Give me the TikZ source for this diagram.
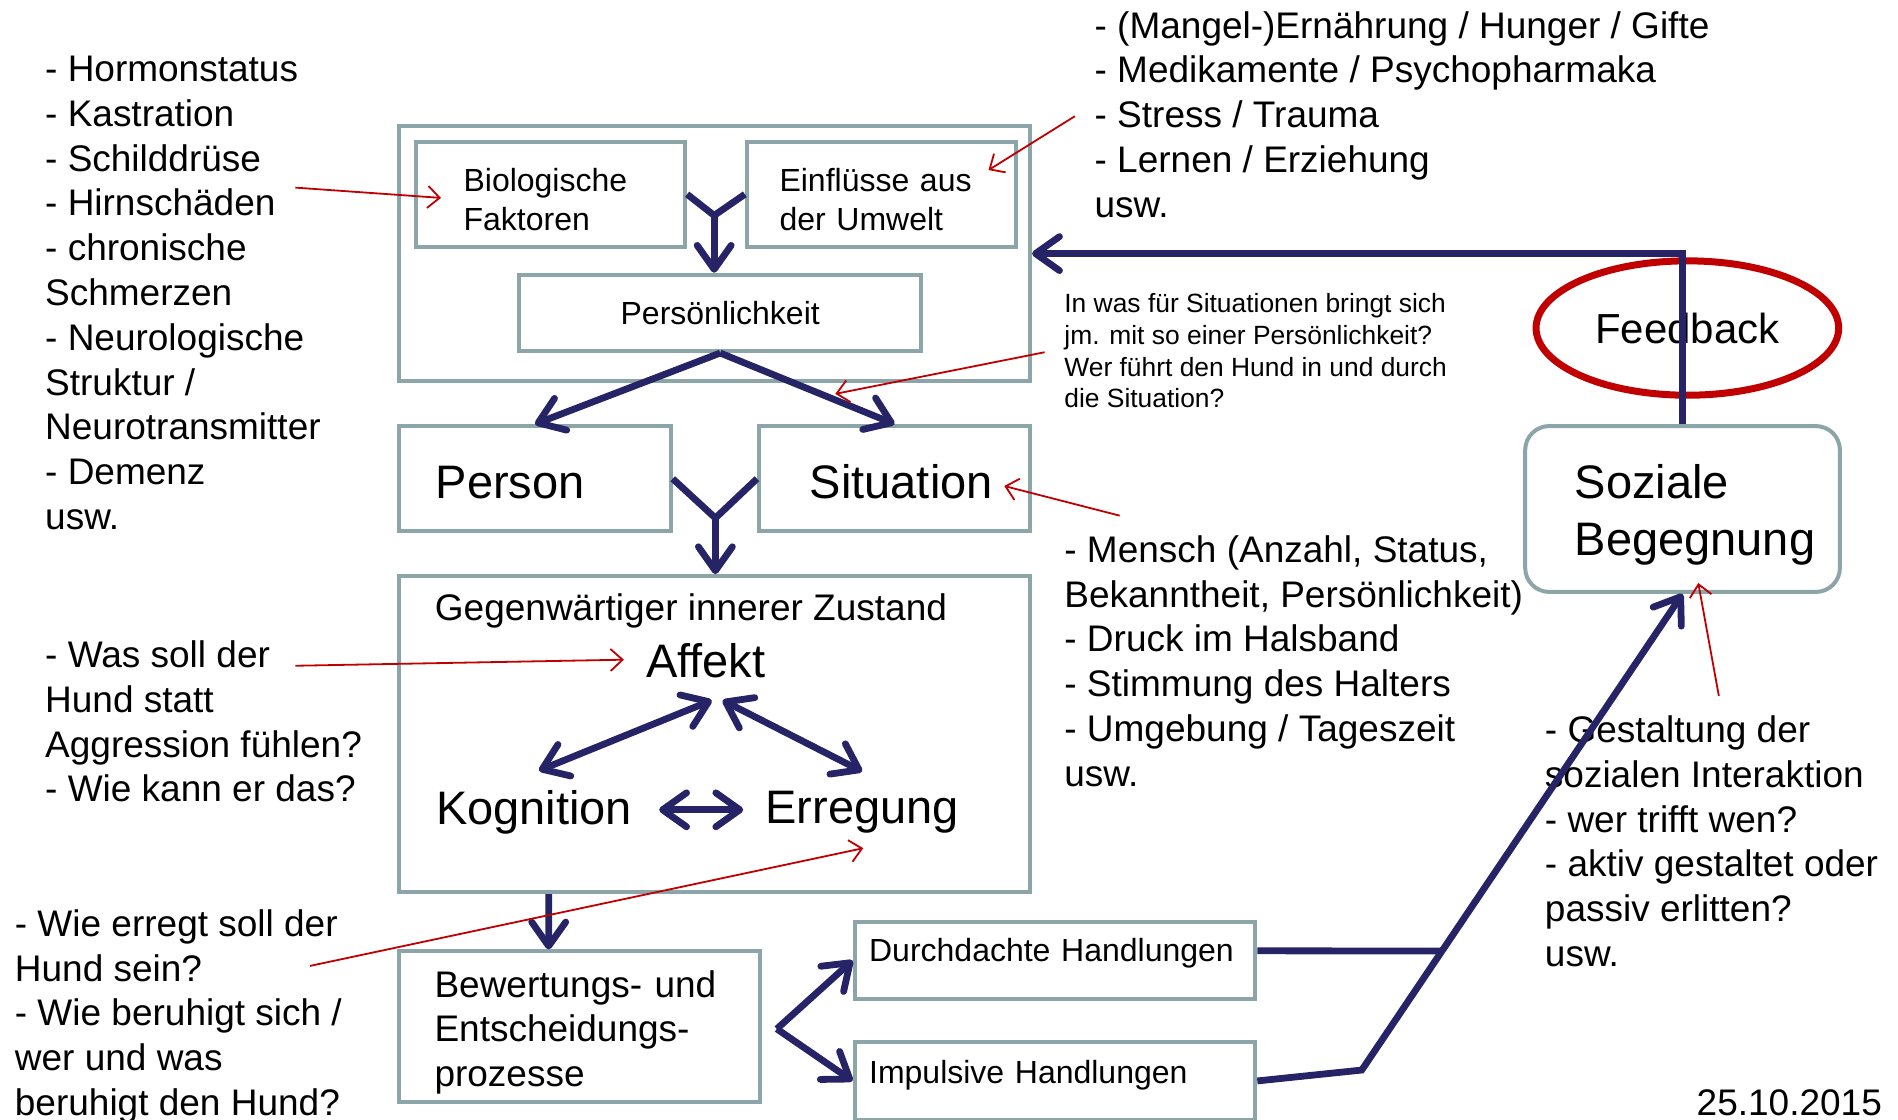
\documentclass[tikz,border=0pt]{standalone}
\usepackage{fontspec}
\setmainfont{Liberation Sans}
\definecolor{RahmenGrau}{HTML}{8CA5A8}
\definecolor{PfeilBlau}{HTML}{262466}
\definecolor{HinweisRot}{HTML}{C00000}
\usepackage{tikz}
\usetikzlibrary{arrows.meta}
\usetikzlibrary{calc}
\usetikzlibrary{shapes.geometric}
\newcommand{\pxu}{0.6053pt}
\newcommand{\schriftKlein}{\fontsize{13.2pt}{15.9pt}\selectfont}
\newcommand{\schriftMittel}{\fontsize{16pt}{19.4pt}\selectfont}
\newcommand{\schriftGross}{\fontsize{18.5pt}{22.4pt}\selectfont}
\newcommand{\schriftFeed}{\fontsize{21pt}{25pt}\selectfont}
\newcommand{\schriftRiesig}{\fontsize{23.5pt}{28.4pt}\selectfont}

\begin{document}
\begin{tikzpicture}
	[x=\pxu, y=-\pxu,
	every node/.style = {inner sep=0pt, align=left},
	kasten/.style = {draw=RahmenGrau, line width=2pt},
	notiz/.style = {anchor=north west, font=\schriftGross},
	>={Straight Barb[length=12pt,width=17pt,round]},
	linie/.style = {draw=PfeilBlau, line width=3.4pt},
	pfeil/.style = {linie, ->},
	doppelpfeil/.style = {linie, <->},
	hinweis/.style = {draw=HinweisRot, line width=0.9pt, -{Straight Barb[length=6pt,width=11pt]}}]
	\useasboundingbox (0,0) rectangle (1568,925);
	% Kaesten
	\node[kasten, minimum width=521*\pxu, minimum height=211*\pxu] (aussen) at (590.5,209.5) {};
	\node[kasten, minimum width=222*\pxu, minimum height=87*\pxu, inner xsep=23.6pt, text width=87.2pt,
		text height=16.5pt, font=\schriftMittel] (bio) at (455,160.5) {Biologische\\Faktoren};
	\node[kasten, minimum width=222*\pxu, minimum height=87*\pxu, inner xsep=16.3pt, text width=101.7pt,
		text height=16.5pt, font=\schriftMittel] (umwelt) at (728,160.5) {Einflüsse aus\\der Umwelt};
	\node[kasten, minimum width=332*\pxu, minimum height=63*\pxu, align=center,
		font=\schriftMittel] (pers) at (595,258.5) {Persönlichkeit};
	\node[kasten, minimum width=224*\pxu, minimum height=87*\pxu, inner xsep=18.2pt, text width=99.3pt,
		text height=20.4pt, font=\schriftRiesig] (person) at (442,395.5) {Person};
	\node[kasten, minimum width=224*\pxu, minimum height=87*\pxu, inner xsep=25.4pt, text width=84.7pt,
		text height=20.4pt, font=\schriftRiesig] (situation) at (739,395.5) {\mbox{Situation}};
	\node[kasten, minimum width=521*\pxu, minimum height=261*\pxu] (zustand) at (590.5,606.5) {};
	\node[kasten, minimum width=298*\pxu, minimum height=124*\pxu, inner xsep=17.6pt, text width=145.3pt,
		text height=19.3pt, font=\schriftGross] (bewert) at (479,848) {Bewertungs- und\\Entscheidungs-\\prozesse};
	\node[kasten, minimum width=331*\pxu, minimum height=63*\pxu, inner xsep=7.3pt, text width=185.8pt,
		text depth=10.5pt, font=\schriftMittel] (durch) at (871.5,793.5) {Durchdachte Handlungen};
	\node[kasten, minimum width=331*\pxu, minimum height=64*\pxu, inner xsep=7.3pt, text width=185.8pt,
		text depth=8.7pt, font=\schriftMittel] (impuls) at (871.5,893) {Impulsive Handlungen};
	\node[kasten, rounded corners=12pt, minimum width=260*\pxu, minimum height=137*\pxu, inner xsep=24.8pt,
		text width=107.7pt, text height=23.2pt, font=\schriftRiesig] (sozial) at (1390,420.5) {Soziale\\\mbox{Begegnung}};
	\node[draw=HinweisRot, line width=3.5pt, ellipse, minimum width=250*\pxu, minimum height=111*\pxu,
		font=\schriftFeed] (feedback) at (1394,271) {Feedback};
	% innerer Zustand
	\node[anchor=west, font=\schriftGross] (titel) at (359,505) {Gegenwärtiger innerer Zustand};
	\node[font=\schriftRiesig] (affekt) at (583,546) {Affekt};
	\node[anchor=west, font=\schriftRiesig] (kognition) at (360,671) {Kognition};
	\node[anchor=west, font=\schriftRiesig] (erregung) at (632,671) {Erregung};
	% Notizen
	\node[notiz] (hormone) at (37,46) {- Hormonstatus\\- Kastration\\- Schilddrüse\\- Hirnschäden\\- chronische\\Schmerzen\\- Neurologische\\Struktur /\\Neurotransmitter\\- Demenz\\usw.};
	\node[notiz] (einfluesse) at (904,9) {- (Mangel-)Ernährung / Hunger / Gifte\\- Medikamente / Psychopharmaka\\- Stress / Trauma\\- Lernen / Erziehung\\usw.};
	\node[notiz, font=\schriftKlein] (fragen) at (879,242) {In was für Situationen bringt sich\\jm. mit so einer Persönlichkeit?\\Wer führt den Hund in und durch\\die Situation?};
	\node[notiz] (mensch) at (879,442) {- Mensch (Anzahl, Status,\\Bekanntheit, Persönlichkeit)\\- Druck im Halsband\\- Stimmung des Halters\\- Umgebung / Tageszeit\\usw.};
	\node[notiz] (affektfrage) at (37,529) {- Was soll der\\Hund statt\\Aggression fühlen?\\- Wie kann er das?};
	\node[notiz] (erregfrage) at (12,751) {- Wie erregt soll der\\Hund sein?\\- Wie beruhigt sich /\\wer und was\\beruhigt den Hund?};
	\node[notiz] (interaktion) at (1276,591) {- Gestaltung der\\sozialen Interaktion\\- wer trifft wen?\\- aktiv gestaltet oder\\passiv erlitten?\\usw.};
	\node[notiz, anchor=north east] (datum) at (1555,900) {25.10.2015};
	% Verbindungen
	\coordinate (gabel1) at (590,178);
	\draw[linie] (bio.east) -- (gabel1) -- (umwelt.west);
	\draw[pfeil] (gabel1) -- (gabel1 |- pers.north);
	\draw[pfeil] (pers.south) -- (person.north);
	\draw[pfeil] (pers.south) -- (situation.north);
	\coordinate (gabel2) at (591,428);
	\draw[linie] (person.east) -- (gabel2) -- (situation.west);
	\draw[pfeil] (gabel2) -- (gabel2 |- zustand.north);
	\draw[doppelpfeil] ($(affekt.south)+(5,18)$) -- ($(kognition.north)+(4,-16)$);
	\draw[doppelpfeil] ($(affekt.south)+(14,18)$) -- ($(erregung.north)+(0,-16)$);
	\draw[doppelpfeil] ($(kognition.east)+(22,-2)$) -- ($(erregung.west)+(-18,-2)$);
	\draw[pfeil] ($(zustand.south west)+(125,0)$) -- ($(bewert.north west)+(125,0)$);
	\coordinate (gabel3) at ($(bewert.east)+(12,2)$);
	\draw[pfeil] (gabel3) -- (durch.west);
	\draw[pfeil] (gabel3) -- (impuls.west);
	\coordinate (knick) at (1125,884);
	\draw[pfeil] (impuls.east) -- (knick) -- (sozial.south);
	\draw[linie] ($(durch.east)+(0,-8)$) -- ($(knick)!0.25!(sozial.south)$);
	\draw[pfeil] (sozial.north) |- (aussen.east);
	% rote Hinweise
	\draw[hinweis] (244,155) -- ($(bio.west)+(22,3)$);
	\draw[hinweis] (888,96) -- ($(umwelt.east)+(-24,-20)$);
	\draw[hinweis] (863,291) -- ($(pers.south)!0.66!(situation.north)+(0,-5)$);
	\draw[hinweis] (925,426) -- ($(situation.east)+(-23,6)$);
	\draw[hinweis] (244,550) -- ($(affekt.west)+(-18,-1)$);
	\draw[hinweis] (256,798) -- ($(erregung.south)+(1,12)$);
	\draw[hinweis] (1420,575) -- ($(sozial.south)+(13,-9)$);
\end{tikzpicture}
\end{document}
